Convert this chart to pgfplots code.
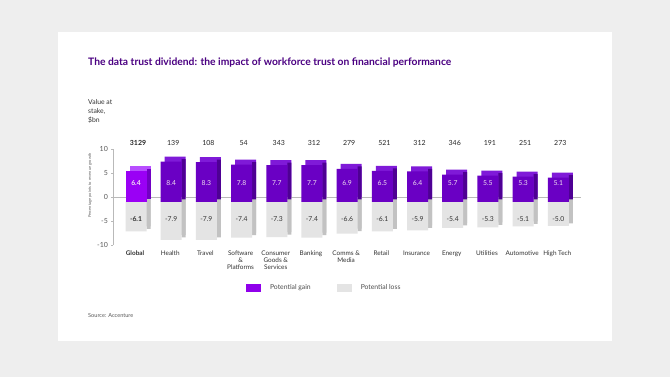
\documentclass[border=0pt]{standalone}
\usepackage{pgfplots}
\pgfplotsset{compat=1.18}
\usepackage{fontspec}
\setmainfont{Lato}

\definecolor{bgc}{HTML}{EEEEEE}
\definecolor{titlec}{HTML}{4B0082}
\definecolor{pfront}{HTML}{6A00C4}
\definecolor{ptop}{HTML}{7F1AD8}
\definecolor{pside}{HTML}{4E0094}
\definecolor{gfront}{HTML}{9A00F5}
\definecolor{gtop}{HTML}{B84EFF}
\definecolor{gside}{HTML}{7200C4}
\definecolor{lfront}{HTML}{E4E4E4}
\definecolor{lside}{HTML}{C2C2C2}

\pgfplotsset{
  bb/.style={ybar, bar width=#1, bar shift=0pt, draw=none, forget plot},
  lbl/.style={forget plot, only marks, mark=none, nodes near coords, point meta=explicit symbolic,
    nodes near coords style={anchor=center, font=\fontsize{6.8}{8}\selectfont, #1}},
}

\begin{document}
\begin{tikzpicture}
\fill[bgc] (0,0) rectangle (670pt,377pt);
\fill[white] (58pt,36pt) rectangle (612pt,345pt);

\node[anchor=west, text=titlec, font=\bfseries\fontsize{10.3}{11}\selectfont, inner sep=0pt] at (88pt,314pt)
  {The data trust dividend: the impact of workforce trust on financial performance};
\node[anchor=north west, align=left, font=\fontsize{6.8}{9}\selectfont, text=black!80, inner sep=0pt] at (88pt,278pt)
  {Value at\\stake,\\\$bn};
\node[anchor=west, font=\fontsize{5.6}{6}\selectfont, text=black!65, inner sep=0pt] at (88pt,62pt)
  {Source: Accenture};

\begin{axis}[
  at={(113.4pt,132pt)}, anchor=south west, scale only axis,
  width=468pt, height=96pt,
  xmin=-0.7, xmax=12.6, ymin=-10, ymax=10, clip=false,
  axis lines=left,
  x axis line style={draw=none},
  y axis line style={draw=gray!55, line width=0.4pt, -},
  ytick={-10,-5,0,5,10},
  xtick={0,...,12},
  xticklabels={\textbf{Global},Health,Travel,Software\\\&\\Platforms,Consumer\\Goods \&\\Services,Banking,Comms \&\\Media,Retail,Insurance,Energy,Utilities,Automotive,High Tech},
  xtick style={draw=none},
  ytick style={draw=gray!55, line width=0.4pt},
  tick align=outside,
  major tick length=2pt,
  /pgf/number format/assume math mode=true,
  yticklabel style={font=\fontsize{7}{8}\selectfont, text=black!65},
  xticklabel style={font=\fontsize{6.4}{7}\selectfont, align=center, text=black!80, xshift=-3pt, yshift=-0.5pt},
  ylabel={Percentage points to revenue growth},
  ylabel style={at={(axis description cs:-0.05,0.62)}, anchor=center, font=\fontsize{4}{4}\selectfont, text=black!60},
  legend style={at={(axis description cs:0.283,-0.45)}, anchor=west, legend columns=2, draw=none, fill=none,
    inner sep=0pt, font=\fontsize{6.8}{7}\selectfont, text=black!70,
    /tikz/every odd column/.append style={column sep=7pt},
    /tikz/every even column/.append style={column sep=24pt}},
  legend image code/.code={\fill[#1, draw=none] (0pt,-4pt) rectangle (15pt,4pt);},
]
% zero line
\addplot[forget plot, draw=gray!55, line width=0.9pt] coordinates {(-0.7,0) (12.6,0)};

% potential loss
\addplot[bb=21pt, fill=lside, xshift=2pt] coordinates {
 (0,-6.1) (1,-7.9) (2,-7.9) (3,-7.4) (4,-7.3) (5,-7.4) (6,-6.6) (7,-6.1) (8,-5.9) (9,-5.4) (10,-5.3) (11,-5.1) (12,-5.0)};
\addplot[bb=4pt, fill=lside, xshift=10.5pt, yshift=-2.5pt] coordinates {
 (0,-6.1) (1,-7.9) (2,-7.9) (3,-7.4) (4,-7.3) (5,-7.4) (6,-6.6) (7,-6.1) (8,-5.9) (9,-5.4) (10,-5.3) (11,-5.1) (12,-5.0)};
\addplot[bb=21pt, fill=lfront, xshift=-2pt, yshift=-5pt] coordinates {
 (0,-6.1) (1,-7.9) (2,-7.9) (3,-7.4) (4,-7.3) (5,-7.4) (6,-6.6) (7,-6.1) (8,-5.9) (9,-5.4) (10,-5.3) (11,-5.1) (12,-5.0)};

% potential gain - global
\addplot[bb=21pt, fill=gtop, xshift=2pt] coordinates {(0,6.4)};
\addplot[bb=4pt, fill=gside, xshift=10.5pt, yshift=-2.5pt] coordinates {(0,6.4)};
\addplot[bb=21pt, fill=gfront, xshift=-2pt, yshift=-5pt] coordinates {(0,6.4)};
% potential gain - industries
\addplot[bb=21pt, fill=ptop, xshift=2pt] coordinates {
 (1,8.4) (2,8.3) (3,7.8) (4,7.7) (5,7.7) (6,6.9) (7,6.5) (8,6.4) (9,5.7) (10,5.5) (11,5.3) (12,5.1)};
\addplot[bb=4pt, fill=pside, xshift=10.5pt, yshift=-2.5pt] coordinates {
 (1,8.4) (2,8.3) (3,7.8) (4,7.7) (5,7.7) (6,6.9) (7,6.5) (8,6.4) (9,5.7) (10,5.5) (11,5.3) (12,5.1)};
\addplot[bb=21pt, fill=pfront, xshift=-2pt, yshift=-5pt] coordinates {
 (1,8.4) (2,8.3) (3,7.8) (4,7.7) (5,7.7) (6,6.9) (7,6.5) (8,6.4) (9,5.7) (10,5.5) (11,5.3) (12,5.1)};

% labels inside bars
\addplot[lbl={text=white!88!violet, xshift=-2pt}] coordinates {
 (0,2.9) [\textbf{6.4}] (1,2.9) [8.4] (2,2.9) [8.3] (3,2.9) [7.8] (4,2.9) [7.7] (5,2.9) [7.7] (6,2.9) [6.9]
 (7,2.9) [6.5] (8,2.9) [6.4] (9,2.9) [5.7] (10,2.9) [5.5] (11,2.9) [5.3] (12,2.9) [5.1]};
\addplot[lbl={text=black!80, xshift=-2pt}] coordinates {
 (0,-4.6) [\textbf{-6.1}] (1,-4.6) [-7.9] (2,-4.6) [-7.9] (3,-4.6) [-7.4] (4,-4.6) [-7.3] (5,-4.6) [-7.4] (6,-4.6) [-6.6]
 (7,-4.6) [-6.1] (8,-4.6) [-5.9] (9,-4.6) [-5.4] (10,-4.6) [-5.3] (11,-4.6) [-5.1] (12,-4.6) [-5.0]};
% value at stake
\addplot[lbl={text=black!85, font=\fontsize{7}{8}\selectfont}] coordinates {
 (0,11.2) [\textbf{3129}] (1,11.2) [139] (2,11.2) [108] (3,11.2) [54] (4,11.2) [343] (5,11.2) [312] (6,11.2) [279]
 (7,11.2) [521] (8,11.2) [312] (9,11.2) [346] (10,11.2) [191] (11,11.2) [251] (12,11.2) [273]};

\addlegendimage{fill=gfront!80!pfront}
\addlegendentry{Potential gain}
\addlegendimage{fill=lfront}
\addlegendentry{Potential loss}
\end{axis}

\pgfresetboundingbox
\path[use as bounding box] (0,0) rectangle (670pt,377pt);
\end{tikzpicture}
\end{document}
